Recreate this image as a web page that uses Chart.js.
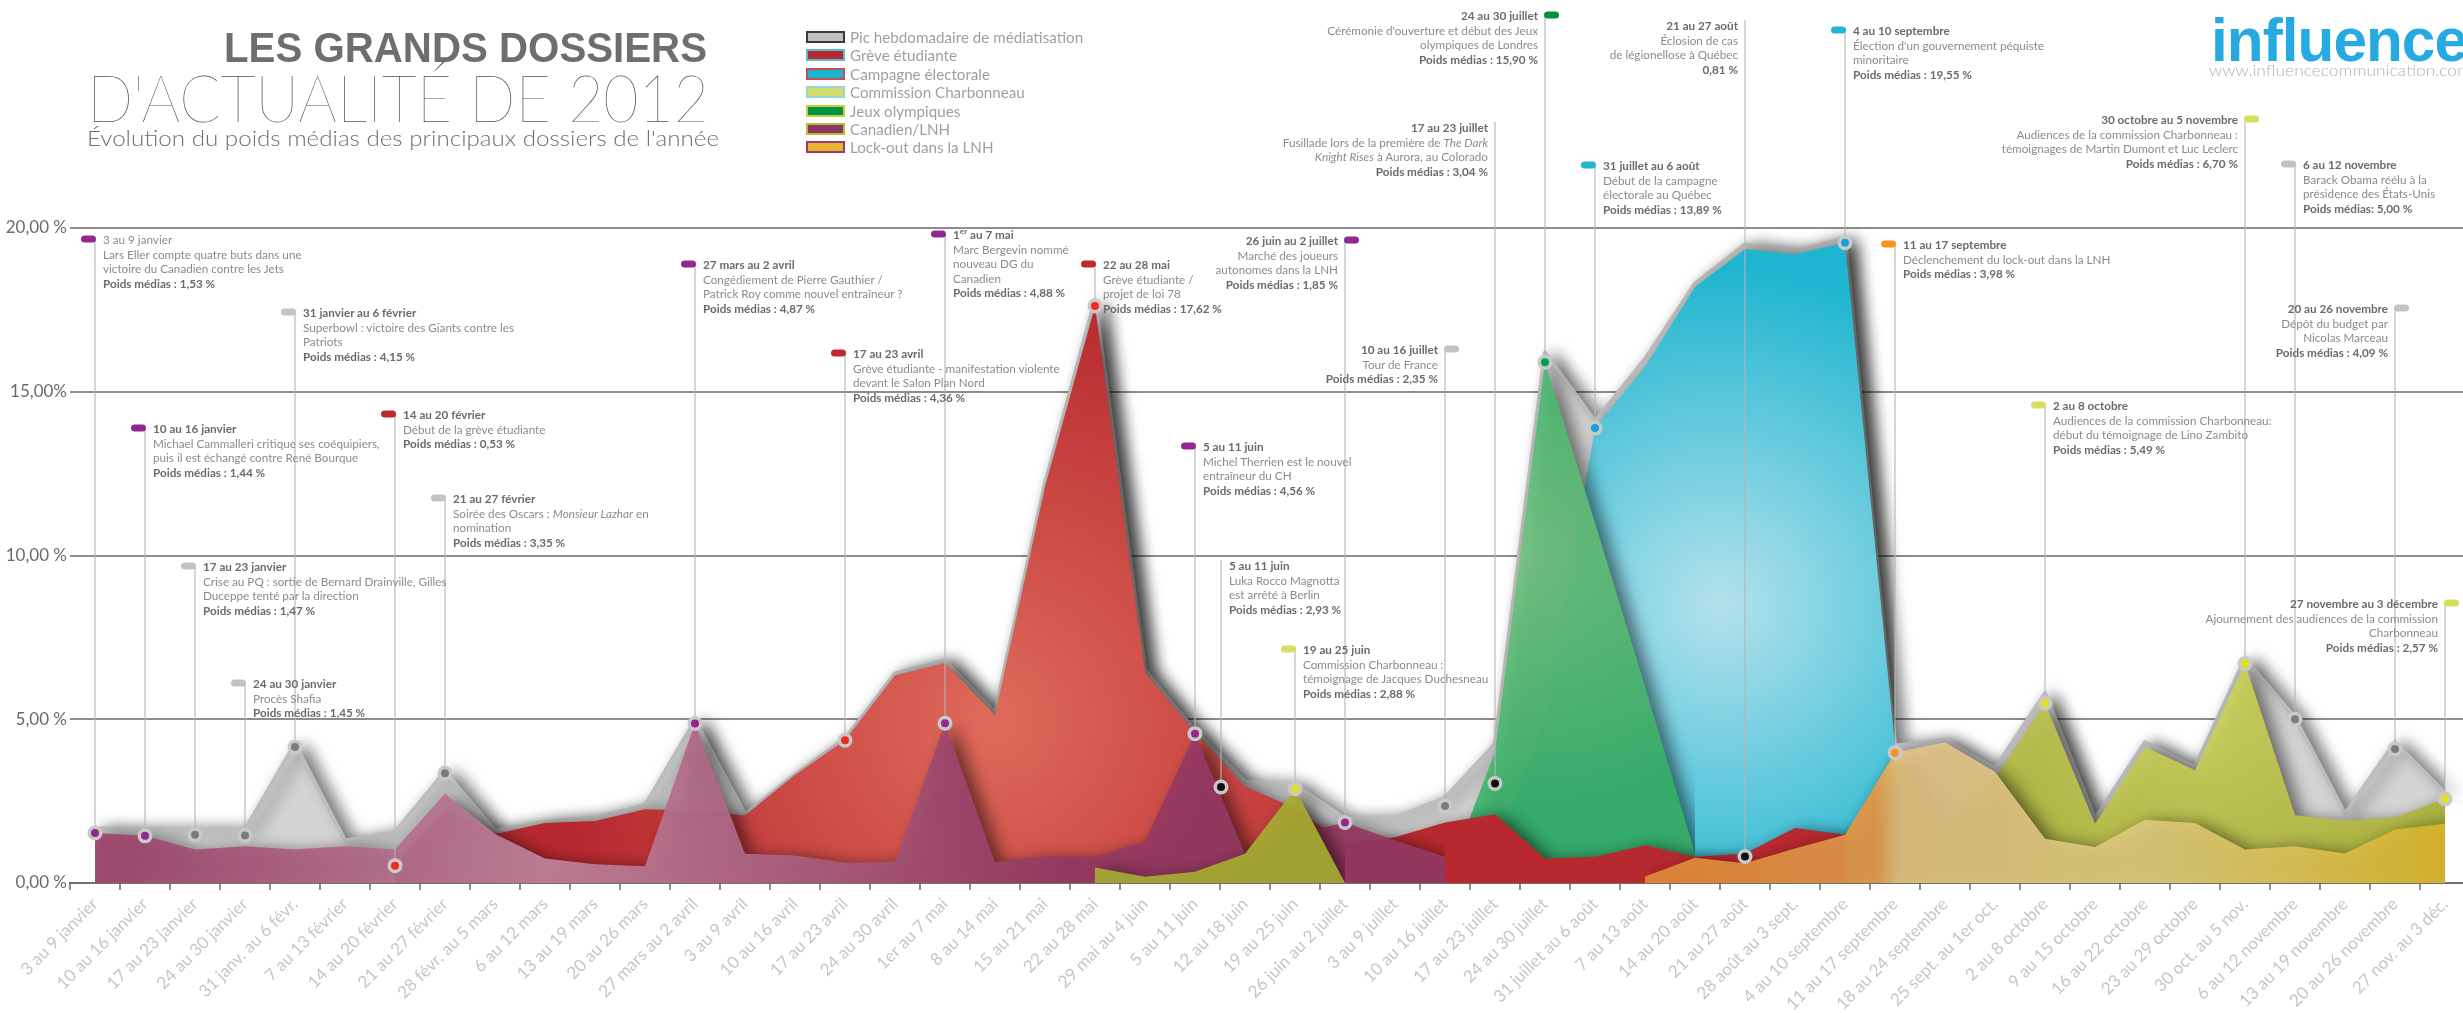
<!DOCTYPE html>
<html lang="fr">
<head>
<meta charset="utf-8">
<title>Les grands dossiers d'actualité de 2012</title>
<script src="https://cdn.jsdelivr.net/npm/chart.js@4.4.1/dist/chart.umd.min.js"></script>
<style>
  html, body { margin: 0; padding: 0; background: #fff; overflow: hidden; }
  #page { position: relative; width: 2463px; height: 1013px; overflow: hidden; }
  #chart { position: absolute; left: 0; top: 0; }
  .fit { position: absolute; white-space: nowrap; transform-origin: 0 0; line-height: 1; }
  #t1 { left: 224px; top: 23px; font: 700 43px 'Liberation Sans', Arial, sans-serif; color: #6d6e71; }
  #t2 { left: 87px; top: 58px; font: 200 65px Lato, sans-serif; color: #4f5053; }
  #t3 { left: 87px; top: 124px; font: 300 22px Lato, sans-serif; color: #6f7073; }
  #logo { left: 2211px; top: 4px; font: 700 62px 'Liberation Sans', Arial, sans-serif; color: #27aae1; letter-spacing: -1px; }
  #url { left: 2209px; top: 61px; font: 300 15px Lato, sans-serif; color: #b3b3b3; }
  .lg-box { position: absolute; left: 806px; width: 39px; height: 12px; box-sizing: border-box; border: 2px solid; }
  .lg-txt { position: absolute; left: 850px; font: 400 15.2px Lato, sans-serif; line-height: 18px; color: #9f9f9f; white-space: nowrap; }
  .note { position: absolute; font: 400 11.7px Lato, sans-serif; line-height: 14.5px; color: #8b8b8b; white-space: nowrap; }
  .note b { font-weight: 700; color: #6b6b6b; }
  .note sup { font-size: 0.7em; line-height: 0; }
  .note.right { text-align: right; }
</style>
</head>
<body>
<div id="page">
  <canvas id="chart" width="2470" height="1013"></canvas>
  <div id="t1" class="fit">LES GRANDS DOSSIERS</div>
  <div id="t2" class="fit">D'ACTUALITÉ DE 2012</div>
  <div id="t3" class="fit">Évolution du poids médias des principaux dossiers de l'année</div>
  <div id="logo" class="fit">influence</div>
  <div id="url" class="fit">www.influencecommunication.com</div>
</div>
<script>
const weeks = ['3 au 9 janvier', '10 au 16 janvier', '17 au 23 janvier', '24 au 30 janvier', '31 janv. au 6 févr.',
    '7 au 13 février', '14 au 20 février', '21 au 27 février', '28 févr. au 5 mars', '6 au 12 mars', '13 au 19 mars',
    '20 au 26 mars', '27 mars au 2 avril', '3 au 9 avril', '10 au 16 avril', '17 au 23 avril', '24 au 30 avril',
    '1er au 7 mai', '8 au 14 mai', '15 au 21 mai', '22 au 28 mai', '29 mai au 4 juin', '5 au 11 juin', '12 au 18 juin',
    '19 au 25 juin', '26 juin au 2 juillet', '3 au 9 juillet', '10 au 16 juillet', '17 au 23 juillet', '24 au 30 juillet',
    '31 juillet au 6 août', '7 au 13 août', '14 au 20 août', '21 au 27 août', '28 août au 3 sept.', '4 au 10 septembre',
    '11 au 17 septembre', '18 au 24 septembre', '25 sept. au 1er oct.', '2 au 8 octobre', '9 au 15 octobre',
    '16 au 22 octobre', '23 au 29 octobre', '30 oct. au 5 nov.', '6 au 12 novembre', '13 au 19 novembre',
    '20 au 26 novembre', '27 nov. au 3 déc.'];
const yTickLabels = ['0,00 %', '5,00 %', '10,00 %', '15,00%', '20,00 %'];

// poids médias (%) per week
const peakValues = [1.67, 1.63, 1.63, 1.63, 4.25, 1.3, 1.56, 3.4, 1.6, 1.86, 2.0, 2.37, 4.97, 2.1, 3.3, 4.4,
    6.4, 6.8, 5.2, 12.2, 17.8, 6.5, 4.65, 3.1, 3.0, 1.97, 2.0, 2.6, 4.25, 16.2, 14.1, 16.0,
    18.3, 19.5, 19.3, 19.7, 4.2, 4.37, 3.5, 5.8, 1.97, 4.3, 3.54, 6.85, 5.05, 2.12, 4.3, 2.75];
const greveValues = [null, null, null, null, null, null, 0.53, 2.2, 1.5, 1.83, 1.89, 2.25, 2.2, 2.07, 3.3, 4.36,
    6.34, 6.72, 5.13, 12.1, 17.62, 6.43, 4.6, 2.95, 2.28, 1.2, 1.4, 1.85, 2.1, 0.75, 0.8, 1.15,
    0.8, 0.9, 1.68, 1.47, 0.85, null, null, null, null, null, null, null, null, null, null, null];
const campagneValues = [null, null, null, null, null, null, null, null, null, null, null, null, null, null, null, null,
    null, null, null, null, null, null, null, null, null, null, null, null, 1.0, 5.0, 13.89, 15.76,
    18.2, 19.35, 19.2, 19.55, 4.2, null, null, null, null, null, null, null, null, null, null, null];
const charbonneauValues = [null, null, null, null, null, null, null, null, null, null, null, null, null, null, null, null,
    null, null, null, null, 0.47, 0.19, 0.34, 0.89, 2.88, 0, null, null, null, null, null, null,
    null, null, null, 1.4, 4.0, 1.7, 3.2, 5.49, 1.81, 4.15, 3.44, 6.70, 2.07, 1.91, 2.0, 2.57];
const joValues = [null, null, null, null, null, null, null, null, null, null, null, null, null, null, null, null,
    null, null, null, null, null, null, null, null, null, null, null, 0, 4.0, 15.9, 11.0, 6.0,
    0.9, null, null, null, null, null, null, null, null, null, null, null, null, null, null, null];
const canadienValues = [1.53, 1.44, 1.02, 1.12, 1.02, 1.12, 1.02, 2.73, 1.5, 0.75, 0.57, 0.51, 4.87, 0.89, 0.84, 0.62,
    0.66, 4.88, 0.63, 0.82, 0.8, 1.27, 4.56, 0.89, 1.5, 1.85, 1.3, 0.8, null, null, null, null,
    null, null, null, null, null, null, null, null, null, null, null, null, null, null, null, null];
const lockoutValues = [null, null, null, null, null, null, null, null, null, null, null, null, null, null, null, null,
    null, null, null, null, null, null, null, null, null, null, null, null, null, null, null, 0.2,
    0.77, 0.6, 1.05, 1.47, 3.98, 4.3, 3.4, 1.35, 1.1, 1.93, 1.83, 1.02, 1.12, 0.9, 1.63, 1.81];

// events written on the chart
const noteWeeks = [0, 1, 2, 3, 4, 6, 7, 12, 15, 17, 20, 22, 22, 24, 25, 27, 28, 29, 30, 33, 35, 36, 39, 43, 44, 46, 47];
const noteValues = [1.53, 1.44, 1.47, 1.45, 4.15, 0.53, 3.35, 4.87, 4.36, 4.88, 17.62, 4.56, 2.93, 2.88, 1.85, 2.35,
    3.04, 15.90, 13.89, 0.81, 19.55, 3.98, 5.49, 6.70, 5.00, 4.09, 2.57];
const noteSeries = ['canadien', 'canadien', 'pic', 'pic', 'pic', 'greve', 'pic', 'canadien', 'greve', 'canadien', 'greve',
    'canadien', 'autre', 'charbonneau', 'canadien', 'pic', 'autre', 'jo', 'campagne', 'autre', 'campagne', 'lockout',
    'charbonneau', 'charbonneau', 'pic', 'pic', 'charbonneau'];
const noteTitles = ['3 au 9 janvier', '10 au 16 janvier', '17 au 23 janvier', '24 au 30 janvier', '31 janvier au 6 février',
    '14 au 20 février', '21 au 27 février', '27 mars au 2 avril', '17 au 23 avril', '1<sup>er</sup> au 7 mai', '22 au 28 mai',
    '5 au 11 juin', '5 au 11 juin', '19 au 25 juin', '26 juin au 2 juillet', '10 au 16 juillet', '17 au 23 juillet',
    '24 au 30 juillet', '31 juillet au 6 août', '21 au 27 août', '4 au 10 septembre', '11 au 17 septembre',
    '2 au 8 octobre', '30 octobre au 5 novembre', '6 au 12 novembre', '20 au 26 novembre', '27 novembre au 3 décembre'];
const noteTexts = [
    ['Lars Eller compte quatre buts dans une', 'victoire du Canadien contre les Jets', 'Poids médias : 1,53 %'],
    ['Michael Cammalleri critique ses coéquipiers,', 'puis il est échangé contre René Bourque', 'Poids médias : 1,44 %'],
    ['Crise au PQ : sortie de Bernard Drainville, Gilles', 'Duceppe tenté par la direction', 'Poids médias : 1,47 %'],
    ['Procès Shafia', 'Poids médias : 1,45 %'],
    ['Superbowl : victoire des Giants contre les', 'Patriots', 'Poids médias : 4,15 %'],
    ['Début de la grève étudiante', 'Poids médias : 0,53 %'],
    ['Soirée des Oscars : <i>Monsieur Lazhar</i> en', 'nomination', 'Poids médias : 3,35 %'],
    ['Congédiement de Pierre Gauthier /', 'Patrick Roy comme nouvel entraîneur ?', 'Poids médias : 4,87 %'],
    ['Grève étudiante - manifestation violente', 'devant le Salon Plan Nord', 'Poids médias : 4,36 %'],
    ['Marc Bergevin nommé', 'nouveau DG du', 'Canadien', 'Poids médias : 4,88 %'],
    ['Grève étudiante /', 'projet de loi 78', 'Poids médias : 17,62 %'],
    ['Michel Therrien est le nouvel', 'entraîneur du CH', 'Poids médias : 4,56 %'],
    ['Luka Rocco Magnotta', 'est arrêté à Berlin', 'Poids médias : 2,93 %'],
    ['Commission Charbonneau :', 'témoignage de Jacques Duchesneau', 'Poids médias : 2,88 %'],
    ['Marché des joueurs', 'autonomes dans la LNH', 'Poids médias : 1,85 %'],
    ['Tour de France', 'Poids médias : 2,35 %'],
    ['Fusillade lors de la première de <i>The Dark</i>', '<i>Knight Rises</i> à Aurora, au Colorado', 'Poids médias : 3,04 %'],
    ['Cérémonie d\'ouverture et début des Jeux', 'olympiques de Londres', 'Poids médias : 15,90 %'],
    ['Début de la campagne', 'électorale au Québec', 'Poids médias : 13,89 %'],
    ['Éclosion de cas', 'de légionellose à Québec', '0,81 %'],
    ['Élection d\'un gouvernement péquiste', 'minoritaire', 'Poids médias : 19,55 %'],
    ['Déclenchement du lock-out dans la LNH', 'Poids médias : 3,98 %'],
    ['Audiences de la commission Charbonneau:', 'début du témoignage de Lino Zambito', 'Poids médias : 5,49 %'],
    ['Audiences de la commission Charbonneau :', 'témoignages de Martin Dumont et Luc Leclerc', 'Poids médias : 6,70 %'],
    ['Barack Obama réélu à la', 'présidence des États-Unis', 'Poids médias: 5,00 %'],
    ['Dépôt du budget par', 'Nicolas Marceau', 'Poids médias : 4,09 %'],
    ['Ajournement des audiences de la commission', 'Charbonneau', 'Poids médias : 2,57 %']
];

// layout of each note: [pill y, text side, x shift, pill shown, bold title]
const notePlace = [
    [239, 'L', 0, true, false], [428, 'L', 0, true, true], [566, 'L', 0, true, true], [683, 'L', 0, true, true],
    [312, 'L', 0, true, true], [414, 'L', 0, true, true], [498, 'L', 0, true, true], [264, 'L', 0, true, true],
    [353, 'L', 0, true, true], [234, 'L', 0, true, true], [264, 'L', 0, true, true], [446, 'L', 0, true, true],
    [565, 'L', 26, false, true], [649, 'L', 0, true, true], [240, 'R', 0, true, true], [349, 'R', 0, true, true],
    [127, 'R', 0, false, true], [15, 'R', 0, true, true], [165, 'L', 0, true, true], [25, 'R', 0, false, true],
    [30, 'L', 0, true, true], [244, 'L', 0, true, true], [405, 'L', 0, true, true], [119, 'R', 0, true, true],
    [164, 'L', 0, true, true], [308, 'R', 0, true, true], [603, 'R', 0, true, true]
];

const pillColors = { pic: '#c3c3c3', greve: '#c1272d', campagne: '#22b6d2', charbonneau: '#d6de62',
    jo: '#00923f', canadien: '#93278f', lockout: '#f7931e' };
const dotColors = { pic: '#7c7c7c', greve: '#ee2a24', campagne: '#1b9ee0', charbonneau: '#dfe31f',
    jo: '#00a14b', canadien: '#93278f', lockout: '#f7931e', autre: '#111111' };

const legendNames = ['Pic hebdomadaire de médiatisation', 'Grève étudiante', 'Campagne électorale',
    'Commission Charbonneau', 'Jeux olympiques', 'Canadien/LNH', 'Lock-out dans la LNH'];
const legendFill = ['#c0c0c0', '#b8292f', '#1cb5d0', '#d5dc6b', '#009345', '#8d3466', '#ebb42e'];
const legendBorder = ['#3a3a3a', '#58bccb', '#c0505a', '#92d6de', '#c9cf3e', '#b6bd2e', '#9b3a78'];

const page = document.getElementById('page');

legendNames.forEach((name, i) => {
    const cy = 37 + i * 18.4;
    const box = document.createElement('div');
    box.className = 'lg-box';
    box.style.top = (cy - 6) + 'px';
    box.style.background = legendFill[i];
    box.style.borderColor = legendBorder[i];
    page.appendChild(box);
    const txt = document.createElement('div');
    txt.className = 'lg-txt';
    txt.style.top = (cy - 9) + 'px';
    txt.textContent = name;
    page.appendChild(txt);
});

function fitWidth(id, w) {
    const el = document.getElementById(id);
    el.style.transform = 'scaleX(' + (w / el.getBoundingClientRect().width) + ')';
}
fitWidth('t1', 483);
fitWidth('t2', 622);
fitWidth('t3', 632);
fitWidth('logo', 256);
fitWidth('url', 262);

const radial = (base, light, week, level, r) => (ctx) => {
    const chart = ctx.chart;
    if (!chart.chartArea) return base;
    const x = chart.scales.x.getPixelForValue(week);
    const y = chart.scales.y.getPixelForValue(level);
    const g = chart.ctx.createRadialGradient(x, y, 0, x, y, r);
    g.addColorStop(0, light);
    g.addColorStop(1, base);
    return g;
};

const lockoutFill = (ctx) => {
    const chart = ctx.chart;
    if (!chart.chartArea) return '#ddb743';
    const xs = chart.scales.x;
    const x0 = xs.getPixelForValue(31), x1 = xs.getPixelForValue(47);
    const at = (w) => (xs.getPixelForValue(w) - x0) / (x1 - x0);
    const g = chart.ctx.createLinearGradient(x0, 0, x1, 0);
    g.addColorStop(0, 'rgba(224,137,52,0.93)');
    g.addColorStop(at(35.6), 'rgba(226,152,78,0.9)');
    g.addColorStop(at(36.1), 'rgba(232,198,134,0.86)');
    g.addColorStop(at(41), 'rgba(221,203,126,0.9)');
    g.addColorStop(1, 'rgba(216,180,44,0.95)');
    return g;
};

const notesPlugin = {
    id: 'notes',
    beforeDatasetsDraw(chart) {
        const c = chart.ctx;
        c.save();
        c.shadowColor = 'rgba(0,0,0,0.55)';
        c.shadowBlur = 16;
        c.shadowOffsetX = 9;
        c.shadowOffsetY = 2;
    },
    afterDatasetsDraw(chart) {
        const c = chart.ctx;
        c.restore();
        const xs = chart.scales.x, ys = chart.scales.y;
        noteWeeks.forEach((w, i) => {
            const [py, side, dx, pill] = notePlace[i];
            const x = xs.getPixelForValue(w) + dx;
            const y = ys.getPixelForValue(noteValues[i]);
            c.strokeStyle = 'rgba(180,180,180,0.55)';
            c.lineWidth = 2;
            c.beginPath();
            c.moveTo(x, pill ? py : py - 5);
            c.lineTo(x, y);
            c.stroke();
            if (pill) {
                c.fillStyle = pillColors[noteSeries[i]];
                c.beginPath();
                c.roundRect(side === 'L' ? x - 14 : x - 1, py - 3.5, 15, 7, 3.5);
                c.fill();
            }
            c.fillStyle = '#c9c9c9';
            c.beginPath();
            c.arc(x, y, 7.5, 0, Math.PI * 2);
            c.fill();
            c.fillStyle = dotColors[noteSeries[i]];
            c.beginPath();
            c.arc(x, y, 4, 0, Math.PI * 2);
            c.fill();
        });
    }
};

const area = (label, data, order, bg) => ({
    label, data, order, backgroundColor: bg, fill: 'origin',
    borderWidth: 0, pointRadius: 0, tension: 0
});

const chart = new Chart(document.getElementById('chart'), {
    type: 'line',
    data: {
        labels: weeks,
        datasets: [
            { label: 'Pic hebdomadaire de médiatisation', data: peakValues, order: 6, fill: 'origin',
              backgroundColor: '#d4d4d4', borderColor: '#bdbdbd', borderWidth: 4, borderJoinStyle: 'round',
              pointRadius: 0, tension: 0 },
            area('Campagne électorale', campagneValues, 5, radial('#1db5d0', '#b4e1ec', 32.5, 8.5, 340)),
            area('Jeux olympiques', joValues, 4, radial('rgba(55,178,105,0.9)', 'rgba(112,196,126,0.9)', 28.6, 10, 260)),
            area('Grève étudiante', greveValues, 3, radial('#b7292f', '#df6a5b', 18, 5, 430)),
            area('Canadien/LNH', canadienValues, 2, radial('rgba(150,56,98,0.93)', 'rgba(192,132,156,0.93)', 9, 0.5, 520)),
            area('Commission Charbonneau', charbonneauValues, 1, radial('rgba(166,172,50,0.92)', 'rgba(206,213,94,0.92)', 42, 6, 330)),
            area('Lock-out dans la LNH', lockoutValues, 0, lockoutFill)
        ]
    },
    options: {
        responsive: false,
        devicePixelRatio: 1,
        animation: false,
        events: [],
        layout: { padding: { top: 228, left: 0, right: 0, bottom: 0 } },
        plugins: { legend: { display: false }, tooltip: { enabled: false } },
        scales: {
            x: {
                offset: true,
                afterFit: (scale) => { scale.height = 130; },
                grid: { drawOnChartArea: false, color: '#8d8d8d', lineWidth: 2, tickLength: 7, offset: true },
                border: { display: true, color: '#707070', width: 2 },
                ticks: { autoSkip: false, maxRotation: 45, minRotation: 45, padding: 4,
                         color: '#c6c6c6', font: { family: 'Lato', size: 17 } }
            },
            y: {
                min: 0,
                max: 20,
                afterFit: (scale) => { scale.width = 70; },
                grid: { color: '#8d8d8d', lineWidth: 2, drawTicks: false },
                border: { display: false },
                ticks: { stepSize: 5, padding: 3, color: '#6b6b6b', font: { family: 'Lato', size: 17 },
                         callback: (v) => yTickLabels[v / 5] }
            }
        }
    },
    plugins: [notesPlugin]
});

const xScale = chart.scales.x;
noteWeeks.forEach((w, i) => {
    const [py, side, dx, , boldTitle] = notePlace[i];
    const x = xScale.getPixelForValue(w) + dx;
    const body = noteTexts[i];
    const lines = [boldTitle ? '<b>' + noteTitles[i] + '</b>' : noteTitles[i]]
        .concat(body.slice(0, -1), '<b>' + body[body.length - 1] + '</b>');
    const div = document.createElement('div');
    div.className = 'note' + (side === 'R' ? ' right' : '');
    div.innerHTML = lines.join('<br>');
    div.style.top = (py - 7) + 'px';
    if (side === 'L') div.style.left = (x + 8) + 'px';
    else div.style.right = (2463 - x + 7) + 'px';
    page.appendChild(div);
});
</script>
</body>
</html>
